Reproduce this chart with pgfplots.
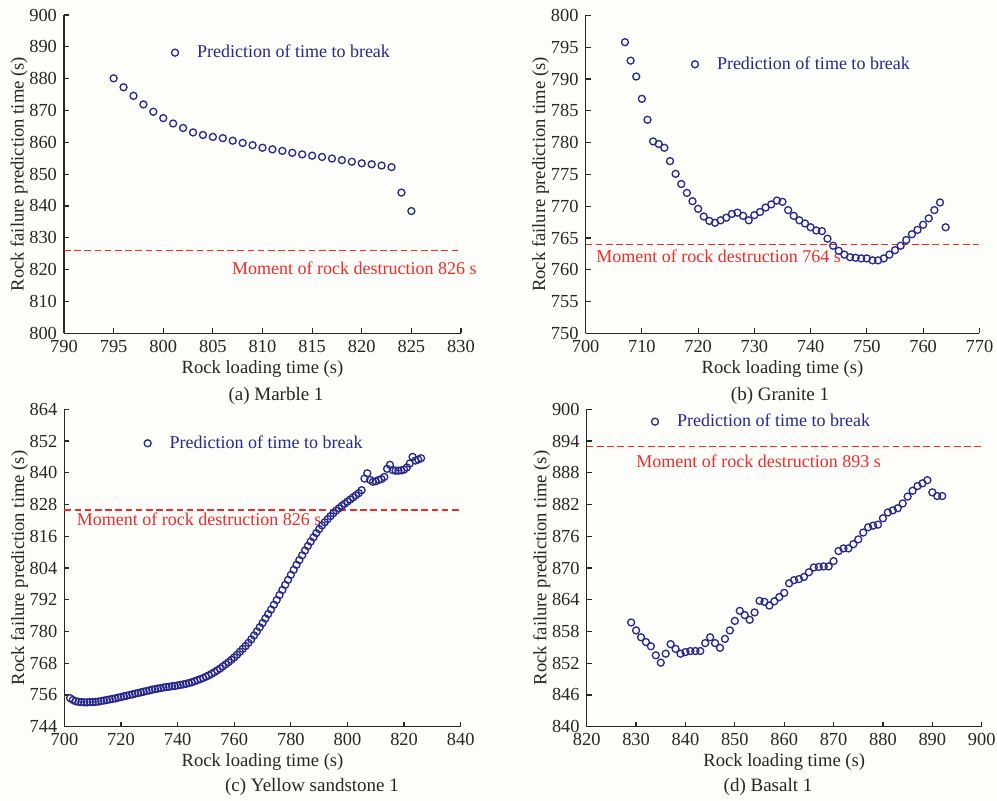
\documentclass[border=0pt]{standalone}
\usepackage{fontspec}
\setmainfont{Liberation Serif}
\usepackage{pgfplots}
\pgfplotsset{compat=1.18}
\usepackage{pgfplotstable}
\definecolor{markblue}{RGB}{40,40,140}
\definecolor{linered}{RGB}{235,45,45}
\definecolor{bgcol}{RGB}{253,253,249}
\definecolor{axgray}{RGB}{40,40,40}

\pgfplotstableread{
x y
795 880.1
796 877.3
797 874.6
798 871.9
799 869.6
800 867.6
801 865.9
802 864.5
803 863.1
804 862.3
805 861.7
806 861.3
807 860.5
808 859.8
809 859.1
810 858.3
811 857.8
812 857.3
813 856.7
814 856.2
815 855.8
816 855.4
817 854.9
818 854.4
819 853.9
820 853.4
821 853.1
822 852.7
823 852.2
824 844.2
825 838.4
}\marble

\pgfplotstableread{
x y
707 795.8
708 792.9
709 790.4
710 786.9
711 783.6
712 780.2
713 779.8
714 779.2
715 777.1
716 775.1
717 773.5
718 772.1
719 770.8
720 769.6
721 768.4
722 767.7
723 767.4
724 767.8
725 768.2
726 768.8
727 769.0
728 768.5
729 767.8
730 768.6
731 769.1
732 769.8
733 770.3
734 770.9
735 770.7
736 769.4
737 768.5
738 767.8
739 767.3
740 766.7
741 766.2
742 766.1
743 764.9
744 763.8
745 763.0
746 762.4
747 762.0
748 761.9
749 761.8
750 761.8
751 761.5
752 761.5
753 761.8
754 762.4
755 763.1
756 763.8
757 764.7
758 765.6
759 766.3
760 767.1
761 768.1
762 769.4
763 770.6
764 766.7
}\granite

\pgfplotstableread{
x y
702 754.8
703 754.1
704 753.6
705 753.4
706 753.3
707 753.2
708 753.2
709 753.3
710 753.3
711 753.4
712 753.5
713 753.7
714 753.9
715 754.1
716 754.3
717 754.5
718 754.7
719 755.0
720 755.2
721 755.5
722 755.7
723 756.0
724 756.2
725 756.5
726 756.7
727 757.0
728 757.2
729 757.5
730 757.7
731 758.0
732 758.2
733 758.4
734 758.6
735 758.8
736 759.0
737 759.1
738 759.3
739 759.4
740 759.6
741 759.8
742 760.0
743 760.2
744 760.5
745 760.8
746 761.2
747 761.6
748 762.0
749 762.4
750 762.9
751 763.4
752 764.0
753 764.6
754 765.3
755 766.0
756 766.8
757 767.6
758 768.4
759 769.3
760 770.2
761 771.2
762 772.3
763 773.4
764 774.5
765 775.7
766 777.0
767 778.5
768 780.0
769 781.6
770 783.2
771 784.9
772 786.6
773 788.3
774 790.1
775 791.9
776 793.8
777 795.7
778 797.6
779 799.5
780 801.4
781 803.3
782 805.2
783 807.0
784 808.8
785 810.6
786 812.3
787 814.0
788 815.6
789 817.2
790 818.7
791 820.1
792 821.3
793 822.5
794 823.6
795 824.7
796 825.7
797 826.6
798 827.5
799 828.3
800 829.1
801 829.9
802 830.7
803 831.5
804 832.3
805 833.4
806 837.8
807 839.8
808 837.3
809 836.6
810 836.8
811 837.3
812 837.6
813 838.4
814 841.5
815 843.0
816 841.0
817 840.8
818 840.8
819 840.9
820 841.2
821 842.0
822 843.5
823 846.0
824 844.6
825 845.0
826 845.5
}\sandstone

\pgfplotstableread{
x y
829 859.7
830 858.2
831 856.9
832 856.0
833 855.2
834 853.5
835 852.1
836 853.8
837 855.6
838 854.7
839 853.8
840 854.1
841 854.3
842 854.3
843 854.3
844 855.8
845 856.9
846 855.8
847 854.9
848 856.6
849 858.2
850 860.0
851 861.9
852 861.1
853 860.2
854 861.6
855 863.8
856 863.6
857 862.9
858 863.7
859 864.5
860 865.3
861 867.1
862 867.7
863 867.9
864 868.3
865 869.2
866 870.1
867 870.2
868 870.3
869 870.3
870 871.3
871 873.2
872 873.7
873 873.7
874 874.5
875 875.4
876 876.7
877 877.7
878 878.0
879 878.2
880 879.4
881 880.5
882 880.9
883 881.3
884 882.2
885 883.5
886 884.6
887 885.5
888 886.0
889 886.6
890 884.3
891 883.6
892 883.6
}\basalt

\pgfplotsset{
 rockstyle/.style={
  scale only axis,
  axis x line=bottom, axis y line=left,
  axis line style={-, axgray, line width=0.6pt},
  tick align=inside,
  major tick length=2.5pt,
  tick style={axgray, line width=0.6pt},
  tick label style={font=\fontsize{9.2}{10}\selectfont, text=black!85},
  /pgf/number format/assume math mode=true,
  /pgf/number format/1000 sep={},
  xlabel={Rock loading time (s)},
  ylabel={Rock failure prediction time (s)},
  label style={font=\fontsize{9.3}{11}\selectfont, text=black!85},
  xlabel style={yshift=3pt},
  ylabel style={yshift=-6pt},
  legend style={draw=none, fill=none, font=\fontsize{9}{10}\selectfont, text=markblue, anchor=west, inner xsep=0pt, inner ysep=0pt},
  legend cell align=left,
  legend image code/.code={\draw[##1] plot coordinates {(0pt,0pt)}; \path[draw=none, fill=none] (-1.7pt,0pt) rectangle (9pt,0pt);},
  anchor=south west,
  clip=false,
 },
 pts/.style={only marks, mark=o, mark size=1.75pt, mark options={line width=0.65pt, draw=markblue}, color=markblue},
 redline/.style={linered, line width=0.75pt, dash pattern=on 3.3pt off 1.8pt, forget plot},
}

\begin{document}
\begin{tikzpicture}
\path[use as bounding box, fill=bgcol] (0,0) rectangle (498.5pt,400.5pt);

% (a) Marble 1
\begin{axis}[rockstyle, at={(32pt,233.85pt)}, width=198.5pt, height=159.15pt,
  xmin=790, xmax=830, ymin=800, ymax=900,
  xtick={790,795,...,830}, ytick={800,810,...,900},
  legend style={at={(0.2698,0.8816)}}]
\addplot[redline] coordinates {(790,826) (830,826)};
\addplot[pts] table[x=x,y=y] {\marble};
\addlegendentry{Prediction of time to break}
\node[anchor=west, inner sep=0pt, text=linered, font=\fontsize{9}{10}\selectfont] at (axis cs:806.9,820.4) {Moment of rock destruction 826 s};
\end{axis}

% (b) Granite 1
\begin{axis}[rockstyle, at={(292.8pt,233.75pt)}, width=196.9pt, height=159pt,
  xmin=700, xmax=770, ymin=750, ymax=800,
  xtick={700,710,...,770}, ytick={750,755,...,800},
  legend style={at={(0.2679,0.8465)}}]
\addplot[redline] coordinates {(700,764) (770,764)};
\addplot[pts] table[x=x,y=y] {\granite};
\addlegendentry{Prediction of time to break}
\node[anchor=west, inner sep=0pt, text=linered, font=\fontsize{9}{10}\selectfont] at (axis cs:701.85,762.1) {Moment of rock destruction 764 s};
\end{axis}

% (c) Yellow sandstone 1
\begin{axis}[rockstyle, at={(32.2pt,37.15pt)}, width=198.15pt, height=158.7pt,
  xmin=700, xmax=840, ymin=744, ymax=864,
  xtick={700,720,...,840}, ytick={744,756,...,864},
  legend style={at={(0.2003,0.8929)}}]
\addplot[redline] coordinates {(700,826) (840,826)};
\addplot[pts] table[x=x,y=y] {\sandstone};
\addlegendentry{Prediction of time to break}
\node[anchor=west, inner sep=0pt, text=linered, font=\fontsize{9}{10}\selectfont] at (axis cs:704.3,822.4) {Moment of rock destruction 826 s};
\end{axis}

% (d) Basalt 1
\begin{axis}[rockstyle, at={(293.35pt,37.15pt)}, width=197.5pt, height=158.7pt,
  xmin=820, xmax=900, ymin=840, ymax=900,
  xtick={820,830,...,900}, ytick={840,846,...,900},
  legend style={at={(0.1631,0.961)}}]
\addplot[redline] coordinates {(820,893) (900,893)};
\addplot[pts] table[x=x,y=y] {\basalt};
\addlegendentry{Prediction of time to break}
\node[anchor=west, inner sep=0pt, text=linered, font=\fontsize{9}{10}\selectfont] at (axis cs:830.0,890.1) {Moment of rock destruction 893 s};
\end{axis}

\node[font=\fontsize{9.5}{11}\selectfont, text=black!85] at (138pt,202.5pt) {(a) Marble 1};
\node[font=\fontsize{9.5}{11}\selectfont, text=black!85] at (390pt,202.5pt) {(b) Granite 1};
\node[font=\fontsize{9.5}{11}\selectfont, text=black!85] at (156pt,7pt) {(c) Yellow sandstone 1};
\node[font=\fontsize{9.5}{11}\selectfont, text=black!85] at (384pt,7pt) {(d) Basalt 1};
\end{tikzpicture}
\end{document}
